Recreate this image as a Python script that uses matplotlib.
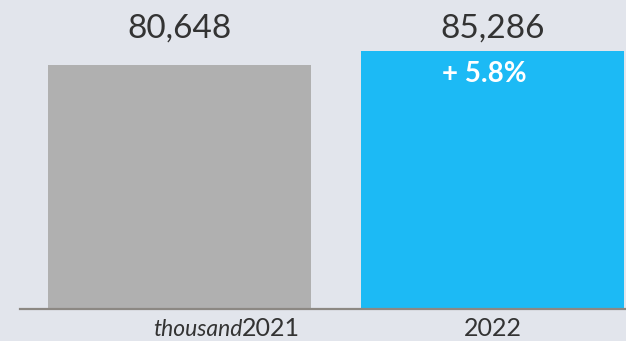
import matplotlib.pyplot as plt
import numpy as np

plt.rcParams['font.family'] = ['Lato', 'DejaVu Sans']

years = ['2021', '2022']
values = [80648, 85286]
unit = 'thousand'
colors = ['#b0b0b0', '#1cbaf5']

bg = '#e2e5ec'
text_col = '#333333'

fig = plt.figure(figsize=(6.26, 3.41), dpi=100, facecolor=bg)
ax = fig.add_axes([20 / 626, 32 / 341, 606 / 626, 309 / 341], facecolor=bg)

x = np.arange(len(years))
bars = ax.bar(x, values, width=0.84, color=colors, zorder=2)

ax.set_xlim(-0.51, 1.4265)
ax.set_ylim(0, 102130)

for s in ['top', 'right', 'left']:
    ax.spines[s].set_visible(False)
ax.spines['bottom'].set_color('#8c8883')
ax.spines['bottom'].set_linewidth(1.6)
ax.spines['bottom'].set_zorder(3)
ax.set_yticks([])
ax.set_xticks([])

# value labels sit on one line above the bars
for xi, v in zip(x, values):
    ax.text(xi, 0.877, '{:,}'.format(v), transform=ax.get_xaxis_transform(),
            ha='center', va='baseline', fontsize=24, color=text_col)

# growth label inside the 2022 bar
growth = (values[1] / values[0] - 1) * 100
ax.annotate('+ {:.1f}%'.format(growth), xy=(x[1], values[1]),
            xytext=(-6, -22), textcoords='offset points',
            ha='center', va='baseline', fontsize=20, fontweight='bold',
            color='white', zorder=4)

# year labels under the axis
offsets = [66, 0]
for xi, yr, off in zip(x, years, offsets):
    ax.annotate(yr, xy=(xi, 0), xycoords=ax.get_xaxis_transform(),
                xytext=(off, -19.5), textcoords='offset points',
                ha='center', va='baseline', fontsize=18, color=text_col,
                annotation_clip=False)

ax.annotate(unit, xy=(x[0], 0), xycoords=ax.get_xaxis_transform(),
            xytext=(45, -19.5), textcoords='offset points',
            ha='right', va='baseline', fontsize=16.5, style='italic',
            color=text_col, annotation_clip=False)

fig.savefig('out.png', dpi=100, facecolor=bg)
